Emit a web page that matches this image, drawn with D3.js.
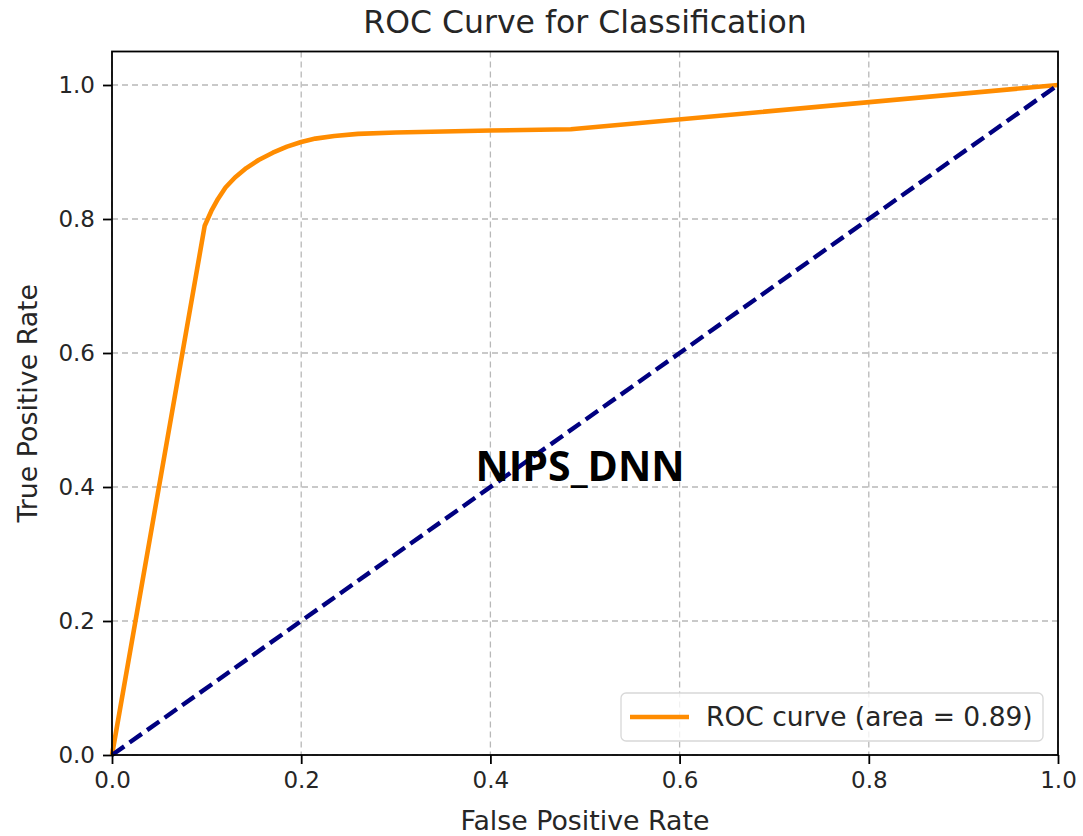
<!DOCTYPE html>
<html>
<head>
<meta charset="utf-8">
<script src="https://cdn.jsdelivr.net/npm/d3@7"></script>
<style>
  body { margin: 0; background: #fff; }
  text { font-family: "DejaVu Sans", sans-serif; fill: #262626; }
</style>
</head>
<body>
<svg id="chart" width="1083" height="836"></svg>
<script>
// ROC curve points
const fpr = [0, 0.098, 0.105, 0.112, 0.12, 0.13, 0.142, 0.155, 0.17, 0.185, 0.2, 0.215, 0.235, 0.26, 0.3, 0.4, 0.485, 1];
const tpr = [0, 0.79, 0.812, 0.83, 0.847, 0.862, 0.876, 0.888, 0.899, 0.908, 0.915, 0.92, 0.924, 0.927, 0.929, 0.932, 0.934, 1];
const chance = [[0, 0], [1, 1]];
const ticks = [0, 0.2, 0.4, 0.6, 0.8, 1.0];
const legendLabel = "ROC curve (area = 0.89)";

const svg = d3.select("#chart");
const plotLeft = 112, plotRight = 1058, plotTop = 51.5, plotBottom = 755;

const x = d3.scaleLinear().domain([0, 1]).range([plotLeft, plotRight]);
const y = d3.scaleLinear().domain([0, 1.05]).range([plotBottom, plotTop]);

// Grid
const grid = svg.append("g");
grid.selectAll("line.gx").data(ticks).enter().append("line")
    .attr("x1", d => x(d)).attr("x2", d => x(d))
    .attr("y1", plotTop).attr("y2", plotBottom)
    .attr("stroke", "#b8b8b8").attr("stroke-width", 1.3).attr("stroke-dasharray", "6,4");
grid.selectAll("line.gy").data(ticks).enter().append("line")
    .attr("x1", plotLeft).attr("x2", plotRight)
    .attr("y1", d => y(d)).attr("y2", d => y(d))
    .attr("stroke", "#b8b8b8").attr("stroke-width", 1.3).attr("stroke-dasharray", "6,4");

// Curves
const line = d3.line().x(d => x(d[0])).y(d => y(d[1]));
svg.append("path")
    .datum(fpr.map((f, i) => [f, tpr[i]]))
    .attr("d", line)
    .attr("fill", "none").attr("stroke", "#ff8c00").attr("stroke-width", 4.6)
    .attr("stroke-linejoin", "round");
svg.append("path")
    .datum(chance)
    .attr("d", line)
    .attr("fill", "none").attr("stroke", "#000080").attr("stroke-width", 4.4)
    .attr("stroke-dasharray", "15,6.5");

// Axes
const xAxis = d3.axisBottom(x).tickValues(ticks).tickFormat(d3.format(".1f")).tickSize(9).tickPadding(8);
const yAxis = d3.axisLeft(y).tickValues(ticks).tickFormat(d3.format(".1f")).tickSize(9).tickPadding(8);

const gx = svg.append("g").attr("transform", `translate(0,${plotBottom})`).call(xAxis);
const gy = svg.append("g").attr("transform", `translate(${plotLeft},0)`).call(yAxis);
[gx, gy].forEach(g => {
    g.select(".domain").remove();
    g.selectAll(".tick line").attr("stroke", "#000").attr("stroke-width", 1.8);
    g.selectAll(".tick text").attr("font-size", 23).attr("fill", "#262626")
        .style("font-family", "DejaVu Sans");
});

// Frame
svg.append("rect")
    .attr("x", plotLeft).attr("y", plotTop)
    .attr("width", plotRight - plotLeft).attr("height", plotBottom - plotTop)
    .attr("fill", "none").attr("stroke", "#000").attr("stroke-width", 1.8);

// Titles
svg.append("text").attr("x", (plotLeft + plotRight) / 2).attr("y", 33)
    .attr("text-anchor", "middle").attr("font-size", 31.5)
    .text("ROC Curve for Classification");
svg.append("text").attr("x", (plotLeft + plotRight) / 2).attr("y", 830)
    .attr("text-anchor", "middle").attr("font-size", 26.8)
    .text("False Positive Rate");
svg.append("text")
    .attr("transform", `translate(37,${(plotTop + plotBottom) / 2}) rotate(-90)`)
    .attr("text-anchor", "middle").attr("font-size", 26.8)
    .text("True Positive Rate");

// Legend
const lg = svg.append("g");
lg.append("rect").attr("x", 621).attr("y", 693).attr("width", 422).attr("height", 48)
    .attr("rx", 5).attr("fill", "rgba(255,255,255,0.8)")
    .attr("stroke", "#d8d8d8").attr("stroke-width", 1.3);
lg.append("line").attr("x1", 630).attr("x2", 689).attr("y1", 717).attr("y2", 717)
    .attr("stroke", "#ff8c00").attr("stroke-width", 4.6);
lg.append("text").attr("x", 706).attr("y", 726).attr("font-size", 26.5)
    .text(legendLabel);

// Overlay label
svg.append("text").attr("x", 580).attr("y", 481)
    .attr("text-anchor", "middle").attr("font-size", 41).attr("font-weight", "bold")
    .style("font-family", "'Open Sans', sans-serif").style("fill", "#000")
    .text("NIPS_DNN");
</script>
</body>
</html>
